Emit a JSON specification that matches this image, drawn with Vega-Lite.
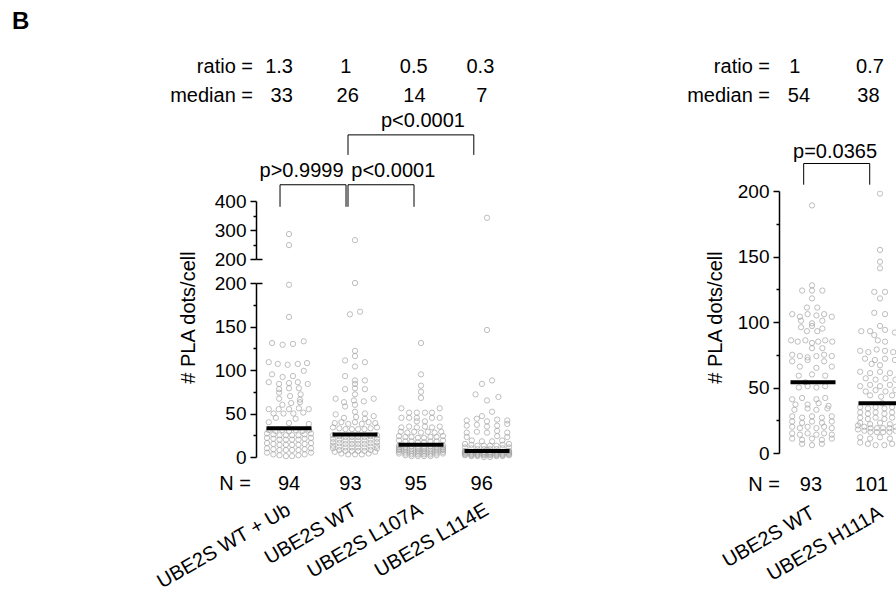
{
"$schema":"https://vega.github.io/schema/vega-lite/v6.json",
"padding":{"left":12,"top":9,"right":0,"bottom":0},
"title":{"text":"B","anchor":"start","frame":"bounds","fontSize":24,"fontWeight":"bold","font":"Liberation Sans","color":"black","dx":-141,"offset":23},
"config":{"font":"Liberation Sans","view":{"stroke":null},
"axis":{"domainColor":"black","domainWidth":1.5,"tickColor":"black","tickWidth":1.5,"tickSize":6,"labelFontSize":19,"labelColor":"black","titleFontSize":20,"titleFontWeight":"normal","titleColor":"black","grid":false,"labelPadding":4},
"text":{"fontSize":20,"color":"black"}},
"datasets":{
"left":[
{"g":"a","v":286,"j":0},{"g":"a","v":248,"j":0},{"g":"a","v":198,"j":0},{"g":"a","v":161,"j":0},
{"g":"a","v":131,"j":-0.77},{"g":"a","v":129,"j":-0.29},{"g":"a","v":130,"j":0.18},{"g":"a","v":133,"j":0.67},
{"g":"a","v":109,"j":-0.92},{"g":"a","v":107,"j":-0.51},{"g":"a","v":106,"j":-0.06},{"g":"a","v":107,"j":0.4},{"g":"a","v":108,"j":0.82},
{"g":"a","v":99,"j":0.67},{"g":"a","v":95,"j":-0.77},{"g":"a","v":92,"j":-0.29},{"g":"a","v":93,"j":0.18},
{"g":"a","v":86,"j":-0.92},{"g":"a","v":84,"j":-0.45},{"g":"a","v":85,"j":0},{"g":"a","v":86,"j":0.4},{"g":"a","v":84,"j":0.85},
{"g":"a","v":78,"j":-0.45},{"g":"a","v":79,"j":0},{"g":"a","v":79,"j":0.45},
{"g":"a","v":74,"j":-0.45},{"g":"a","v":70,"j":0.05},{"g":"a","v":72,"j":0.53},
{"g":"a","v":67,"j":-0.45},{"g":"a","v":66,"j":0.5},
{"g":"a","v":60,"j":-0.3},{"g":"a","v":62,"j":0.1},{"g":"a","v":63,"j":0.5},
{"g":"a","v":55,"j":-0.92},{"g":"a","v":55,"j":-0.47},{"g":"a","v":55,"j":0},{"g":"a","v":56,"j":0.45},{"g":"a","v":55,"j":0.9},
{"g":"a","v":50,"j":-0.7},{"g":"a","v":50,"j":-0.25},{"g":"a","v":50,"j":0.2},{"g":"a","v":51,"j":0.65},
{"g":"a","v":45,"j":-0.6},{"g":"a","v":44,"j":0.3},
{"g":"a","v":40,"j":-0.92},{"g":"a","v":39,"j":0},{"g":"a","v":38,"j":0.9},
{"g":"a","v":31,"j":-0.92},{"g":"a","v":30,"j":-0.62},{"g":"a","v":31,"j":-0.31},{"g":"a","v":30,"j":0},{"g":"a","v":31,"j":0.31},{"g":"a","v":30,"j":0.62},{"g":"a","v":31,"j":0.92},
{"g":"a","v":27,"j":-1},{"g":"a","v":26,"j":-0.71},{"g":"a","v":25,"j":-0.43},{"g":"a","v":25,"j":-0.14},{"g":"a","v":25,"j":0.14},{"g":"a","v":25,"j":0.43},{"g":"a","v":26,"j":0.71},{"g":"a","v":27,"j":1},
{"g":"a","v":22,"j":-1},{"g":"a","v":21,"j":-0.71},{"g":"a","v":20,"j":-0.43},{"g":"a","v":20,"j":-0.14},{"g":"a","v":20,"j":0.14},{"g":"a","v":20,"j":0.43},{"g":"a","v":21,"j":0.71},{"g":"a","v":22,"j":1},
{"g":"a","v":16,"j":-1},{"g":"a","v":15,"j":-0.71},{"g":"a","v":14,"j":-0.43},{"g":"a","v":14,"j":-0.14},{"g":"a","v":14,"j":0.14},{"g":"a","v":14,"j":0.43},{"g":"a","v":15,"j":0.71},{"g":"a","v":16,"j":1},
{"g":"a","v":10,"j":-1},{"g":"a","v":9,"j":-0.71},{"g":"a","v":8,"j":-0.43},{"g":"a","v":8,"j":-0.14},{"g":"a","v":8,"j":0.14},{"g":"a","v":8,"j":0.43},{"g":"a","v":9,"j":0.71},{"g":"a","v":10,"j":1},
{"g":"a","v":5,"j":-1},{"g":"a","v":3,"j":-0.71},{"g":"a","v":2,"j":-0.43},{"g":"a","v":1,"j":-0.14},{"g":"a","v":1,"j":0.14},{"g":"a","v":2,"j":0.43},{"g":"a","v":3,"j":0.71},{"g":"a","v":5,"j":1},
{"g":"b","v":265,"j":0},{"g":"b","v":200,"j":0},{"g":"b","v":164,"j":-0.23},{"g":"b","v":167,"j":0.23},{"g":"b","v":122,"j":0},{"g":"b","v":116,"j":0},{"g":"b","v":111,"j":-0.45},{"g":"b","v":109,"j":0.45},{"g":"b","v":104,"j":0},{"g":"b","v":93,"j":-0.45},
{"g":"b","v":88,"j":0},{"g":"b","v":88,"j":0.45},{"g":"b","v":84,"j":0},{"g":"b","v":78,"j":-0.45},{"g":"b","v":79,"j":0},{"g":"b","v":78,"j":0.45},{"g":"b","v":72,"j":0},
{"g":"b","v":67,"j":-0.88},{"g":"b","v":63,"j":-0.5},{"g":"b","v":65,"j":-0.05},{"g":"b","v":64,"j":0.4},{"g":"b","v":67,"j":0.85},{"g":"b","v":58,"j":-0.45},{"g":"b","v":60,"j":0},
{"g":"b","v":52,"j":0},{"g":"b","v":50,"j":0.45},{"g":"b","v":49,"j":-0.88},{"g":"b","v":45,"j":-0.5},{"g":"b","v":46,"j":0.05},{"g":"b","v":44,"j":0.45},{"g":"b","v":47,"j":0.85},
{"g":"b","v":39,"j":-0.92},{"g":"b","v":40,"j":-0.62},{"g":"b","v":38,"j":-0.31},{"g":"b","v":40,"j":0},{"g":"b","v":38,"j":0.31},{"g":"b","v":40,"j":0.62},{"g":"b","v":39,"j":0.92},
{"g":"b","v":34,"j":-1},{"g":"b","v":33,"j":-0.71},{"g":"b","v":32,"j":-0.43},{"g":"b","v":32,"j":-0.14},{"g":"b","v":32,"j":0.14},{"g":"b","v":32,"j":0.43},{"g":"b","v":33,"j":0.71},{"g":"b","v":34,"j":1},
{"g":"b","v":25,"j":-1},{"g":"b","v":24,"j":-0.71},{"g":"b","v":23,"j":-0.43},{"g":"b","v":23,"j":-0.14},{"g":"b","v":23,"j":0.14},{"g":"b","v":23,"j":0.43},{"g":"b","v":24,"j":0.71},{"g":"b","v":25,"j":1},
{"g":"b","v":21,"j":-1},{"g":"b","v":20,"j":-0.71},{"g":"b","v":19,"j":-0.43},{"g":"b","v":19,"j":-0.14},{"g":"b","v":19,"j":0.14},{"g":"b","v":19,"j":0.43},{"g":"b","v":20,"j":0.71},{"g":"b","v":21,"j":1},
{"g":"b","v":17,"j":-1},{"g":"b","v":16,"j":-0.71},{"g":"b","v":15,"j":-0.43},{"g":"b","v":15,"j":-0.14},{"g":"b","v":15,"j":0.14},{"g":"b","v":15,"j":0.43},{"g":"b","v":16,"j":0.71},{"g":"b","v":17,"j":1},
{"g":"b","v":13,"j":-1},{"g":"b","v":12,"j":-0.71},{"g":"b","v":11,"j":-0.43},{"g":"b","v":11,"j":-0.14},{"g":"b","v":11,"j":0.14},{"g":"b","v":11,"j":0.43},{"g":"b","v":12,"j":0.71},{"g":"b","v":13,"j":1},
{"g":"b","v":10,"j":-1},{"g":"b","v":8,"j":-0.71},{"g":"b","v":7,"j":-0.43},{"g":"b","v":7,"j":-0.14},{"g":"b","v":7,"j":0.14},{"g":"b","v":7,"j":0.43},{"g":"b","v":8,"j":0.71},{"g":"b","v":10,"j":1},
{"g":"b","v":6,"j":-0.92},{"g":"b","v":4,"j":-0.62},{"g":"b","v":3,"j":-0.31},{"g":"b","v":3,"j":0},{"g":"b","v":3,"j":0.31},{"g":"b","v":4,"j":0.62},{"g":"b","v":6,"j":0.92},
{"g":"c","v":131,"j":0},{"g":"c","v":95,"j":0},{"g":"c","v":82,"j":0},{"g":"c","v":75,"j":0},{"g":"c","v":68,"j":0},{"g":"c","v":56,"j":-0.89},{"g":"c","v":56,"j":0.85},
{"g":"c","v":51,"j":-0.54},{"g":"c","v":51,"j":-0.19},{"g":"c","v":51,"j":0.18},{"g":"c","v":51,"j":0.5},
{"g":"c","v":45,"j":-0.89},{"g":"c","v":45,"j":-0.54},{"g":"c","v":45,"j":-0.19},{"g":"c","v":45,"j":0.5},{"g":"c","v":45,"j":0.85},{"g":"c","v":41,"j":-0.19},{"g":"c","v":41,"j":0.18},
{"g":"c","v":34,"j":-0.89},{"g":"c","v":35,"j":-0.54},{"g":"c","v":34,"j":-0.19},{"g":"c","v":35,"j":0.18},{"g":"c","v":34,"j":0.5},{"g":"c","v":35,"j":0.85},
{"g":"c","v":29,"j":-0.92},{"g":"c","v":28,"j":-0.62},{"g":"c","v":29,"j":-0.31},{"g":"c","v":28,"j":0},{"g":"c","v":29,"j":0.31},{"g":"c","v":28,"j":0.62},{"g":"c","v":29,"j":0.92},
{"g":"c","v":24,"j":-1},{"g":"c","v":23,"j":-0.71},{"g":"c","v":23,"j":-0.43},{"g":"c","v":22,"j":-0.14},{"g":"c","v":22,"j":0.14},{"g":"c","v":23,"j":0.43},{"g":"c","v":23,"j":0.71},{"g":"c","v":24,"j":1},
{"g":"c","v":19,"j":-1},{"g":"c","v":18,"j":-0.71},{"g":"c","v":18,"j":-0.43},{"g":"c","v":17,"j":-0.14},{"g":"c","v":17,"j":0.14},{"g":"c","v":18,"j":0.43},{"g":"c","v":18,"j":0.71},{"g":"c","v":19,"j":1},
{"g":"c","v":13,"j":-1},{"g":"c","v":12,"j":-0.71},{"g":"c","v":12,"j":-0.43},{"g":"c","v":11,"j":-0.14},{"g":"c","v":11,"j":0.14},{"g":"c","v":12,"j":0.43},{"g":"c","v":12,"j":0.71},{"g":"c","v":13,"j":1},
{"g":"c","v":11,"j":-1},{"g":"c","v":10,"j":-0.71},{"g":"c","v":9,"j":-0.43},{"g":"c","v":9,"j":-0.14},{"g":"c","v":9,"j":0.14},{"g":"c","v":9,"j":0.43},{"g":"c","v":10,"j":0.71},{"g":"c","v":11,"j":1},
{"g":"c","v":9,"j":-1},{"g":"c","v":8,"j":-0.71},{"g":"c","v":7,"j":-0.43},{"g":"c","v":7,"j":-0.14},{"g":"c","v":7,"j":0.14},{"g":"c","v":7,"j":0.43},{"g":"c","v":8,"j":0.71},{"g":"c","v":9,"j":1},
{"g":"c","v":8,"j":-1},{"g":"c","v":6,"j":-0.71},{"g":"c","v":5,"j":-0.43},{"g":"c","v":5,"j":-0.14},{"g":"c","v":5,"j":0.14},{"g":"c","v":5,"j":0.43},{"g":"c","v":6,"j":0.71},{"g":"c","v":8,"j":1},
{"g":"c","v":6,"j":-1},{"g":"c","v":4,"j":-0.71},{"g":"c","v":3,"j":-0.43},{"g":"c","v":3,"j":-0.14},{"g":"c","v":3,"j":0.14},{"g":"c","v":3,"j":0.43},{"g":"c","v":4,"j":0.71},{"g":"c","v":6,"j":1},
{"g":"c","v":4,"j":-1},{"g":"c","v":2,"j":-0.71},{"g":"c","v":1,"j":-0.43},{"g":"c","v":1,"j":-0.14},{"g":"c","v":1,"j":0.14},{"g":"c","v":1,"j":0.43},{"g":"c","v":2,"j":0.71},{"g":"c","v":4,"j":1},
{"g":"d","v":342,"j":0},{"g":"d","v":146,"j":0},{"g":"d","v":88,"j":0.23},{"g":"d","v":84,"j":-0.23},{"g":"d","v":72,"j":-0.52},{"g":"d","v":69,"j":0.52},{"g":"d","v":65,"j":0},{"g":"d","v":52,"j":0.23},{"g":"d","v":47,"j":-0.23},
{"g":"d","v":42,"j":-0.92},{"g":"d","v":44,"j":-0.46},{"g":"d","v":41,"j":0},{"g":"d","v":43,"j":0.46},{"g":"d","v":42,"j":0.92},
{"g":"d","v":36,"j":-0.92},{"g":"d","v":37,"j":-0.46},{"g":"d","v":35,"j":0},{"g":"d","v":36,"j":0.46},{"g":"d","v":38,"j":0.92},
{"g":"d","v":28,"j":-0.92},{"g":"d","v":29,"j":-0.46},{"g":"d","v":28,"j":0},{"g":"d","v":30,"j":0.46},{"g":"d","v":28,"j":0.92},
{"g":"d","v":23,"j":-0.92},{"g":"d","v":24,"j":0.46},{"g":"d","v":23,"j":0.92},
{"g":"d","v":19,"j":-0.69},{"g":"d","v":18,"j":-0.23},{"g":"d","v":18,"j":0.23},{"g":"d","v":19,"j":0.69},
{"g":"d","v":15,"j":-1},{"g":"d","v":14,"j":-0.71},{"g":"d","v":13,"j":-0.43},{"g":"d","v":13,"j":-0.14},{"g":"d","v":13,"j":0.14},{"g":"d","v":13,"j":0.43},{"g":"d","v":14,"j":0.71},{"g":"d","v":15,"j":1},
{"g":"d","v":11,"j":-1},{"g":"d","v":10,"j":-0.71},{"g":"d","v":9,"j":-0.43},{"g":"d","v":9,"j":-0.14},{"g":"d","v":9,"j":0.14},{"g":"d","v":9,"j":0.43},{"g":"d","v":10,"j":0.71},{"g":"d","v":11,"j":1},
{"g":"d","v":8,"j":0},
{"g":"d","v":7,"j":-1},{"g":"d","v":6,"j":-0.71},{"g":"d","v":6,"j":-0.43},{"g":"d","v":6,"j":-0.14},{"g":"d","v":6,"j":0.14},{"g":"d","v":6,"j":0.43},{"g":"d","v":6,"j":0.71},{"g":"d","v":7,"j":1},
{"g":"d","v":6,"j":-1},{"g":"d","v":5,"j":-0.71},{"g":"d","v":5,"j":-0.43},{"g":"d","v":5,"j":-0.14},{"g":"d","v":5,"j":0.14},{"g":"d","v":5,"j":0.43},{"g":"d","v":5,"j":0.71},{"g":"d","v":6,"j":1},
{"g":"d","v":5,"j":-1},{"g":"d","v":4,"j":-0.71},{"g":"d","v":4,"j":-0.43},{"g":"d","v":4,"j":-0.14},{"g":"d","v":4,"j":0.14},{"g":"d","v":4,"j":0.43},{"g":"d","v":4,"j":0.71},{"g":"d","v":5,"j":1},
{"g":"d","v":4,"j":-1},{"g":"d","v":3,"j":-0.71},{"g":"d","v":3,"j":-0.43},{"g":"d","v":3,"j":-0.14},{"g":"d","v":3,"j":0.14},{"g":"d","v":3,"j":0.43},{"g":"d","v":3,"j":0.71},{"g":"d","v":4,"j":1},
{"g":"d","v":3,"j":-1},{"g":"d","v":2,"j":-0.71},{"g":"d","v":2,"j":-0.43},{"g":"d","v":2,"j":-0.14},{"g":"d","v":2,"j":0.14},{"g":"d","v":2,"j":0.43},{"g":"d","v":2,"j":0.71},{"g":"d","v":3,"j":1},
{"g":"d","v":2,"j":-1},{"g":"d","v":1,"j":-0.71},{"g":"d","v":1,"j":-0.43},{"g":"d","v":0,"j":-0.14},{"g":"d","v":0,"j":0.14},{"g":"d","v":1,"j":0.43},{"g":"d","v":1,"j":0.71},{"g":"d","v":2,"j":1}
],
"right":[
{"g":"e","v":189,"j":0},{"g":"e","v":128,"j":0},{"g":"e","v":124,"j":-0.45},{"g":"e","v":124,"j":0},{"g":"e","v":124,"j":0.47},{"g":"e","v":118,"j":0},{"g":"e","v":111,"j":-0.23},{"g":"e","v":111,"j":0.24},
{"g":"e","v":106,"j":-0.9},{"g":"e","v":104,"j":-0.55},{"g":"e","v":106,"j":-0.2},{"g":"e","v":105,"j":0.2},{"g":"e","v":106,"j":0.55},{"g":"e","v":104,"j":0.9},
{"g":"e","v":101,"j":-0.5},{"g":"e","v":99,"j":0},{"g":"e","v":101,"j":0.47},{"g":"e","v":96,"j":-0.5},{"g":"e","v":97,"j":0},{"g":"e","v":95,"j":0.47},{"g":"e","v":93,"j":-0.23},{"g":"e","v":93,"j":0.24},
{"g":"e","v":86,"j":-0.95},{"g":"e","v":85,"j":-0.65},{"g":"e","v":86,"j":-0.3},{"g":"e","v":84,"j":0},{"g":"e","v":85,"j":0.28},{"g":"e","v":86,"j":0.6},{"g":"e","v":85,"j":0.92},
{"g":"e","v":80,"j":0},{"g":"e","v":80,"j":0.47},
{"g":"e","v":75,"j":-0.9},{"g":"e","v":74,"j":-0.55},{"g":"e","v":73,"j":-0.2},{"g":"e","v":74,"j":0.2},{"g":"e","v":75,"j":0.55},{"g":"e","v":74,"j":0.9},
{"g":"e","v":70,"j":-0.9},{"g":"e","v":71,"j":-0.2},{"g":"e","v":70,"j":0.55},{"g":"e","v":66,"j":-0.55},{"g":"e","v":65,"j":0.2},{"g":"e","v":66,"j":0.9},
{"g":"e","v":59,"j":-0.6},{"g":"e","v":60,"j":0},{"g":"e","v":59,"j":0.6},{"g":"e","v":54,"j":-0.3},
{"g":"e","v":50,"j":-0.6},{"g":"e","v":51,"j":-0.2},{"g":"e","v":50,"j":0.2},{"g":"e","v":51,"j":0.6},
{"g":"e","v":41,"j":-0.9},{"g":"e","v":42,"j":-0.45},{"g":"e","v":41,"j":0.2},{"g":"e","v":42,"j":0.6},
{"g":"e","v":37,"j":-0.75},{"g":"e","v":37,"j":-0.2},{"g":"e","v":38,"j":0.3},{"g":"e","v":36,"j":0.75},
{"g":"e","v":33,"j":-0.8},{"g":"e","v":34,"j":-0.2},{"g":"e","v":33,"j":0.2},{"g":"e","v":34,"j":0.7},
{"g":"e","v":28,"j":-0.9},{"g":"e","v":27,"j":-0.45},{"g":"e","v":28,"j":0},{"g":"e","v":27,"j":0.45},{"g":"e","v":28,"j":0.9},
{"g":"e","v":24,"j":-0.9},{"g":"e","v":23,"j":-0.45},{"g":"e","v":24,"j":0},{"g":"e","v":23,"j":0.45},{"g":"e","v":24,"j":0.9},
{"g":"e","v":20,"j":-0.9},{"g":"e","v":19,"j":-0.55},{"g":"e","v":20,"j":-0.2},{"g":"e","v":19,"j":0.2},{"g":"e","v":20,"j":0.55},{"g":"e","v":19,"j":0.9},
{"g":"e","v":15,"j":-0.9},{"g":"e","v":14,"j":-0.55},{"g":"e","v":15,"j":-0.2},{"g":"e","v":14,"j":0.2},{"g":"e","v":15,"j":0.55},{"g":"e","v":14,"j":0.9},
{"g":"e","v":11,"j":-0.9},{"g":"e","v":10,"j":-0.45},{"g":"e","v":11,"j":0},{"g":"e","v":10,"j":0.45},{"g":"e","v":11,"j":0.9},
{"g":"e","v":7,"j":-0.45},{"g":"e","v":6,"j":0},{"g":"e","v":7,"j":0.45},
{"g":"f","v":198,"j":0},{"g":"f","v":155,"j":0},{"g":"f","v":146,"j":0},{"g":"f","v":141,"j":0},{"g":"f","v":123,"j":-0.26},{"g":"f","v":123,"j":0.23},{"g":"f","v":118,"j":0},{"g":"f","v":107,"j":-0.26},{"g":"f","v":106,"j":0.23},{"g":"f","v":97,"j":0},
{"g":"f","v":93,"j":-0.85},{"g":"f","v":93,"j":-0.45},{"g":"f","v":94,"j":0.23},{"g":"f","v":92,"j":0.68},{"g":"f","v":90,"j":-0.26},{"g":"f","v":86,"j":-0.1},{"g":"f","v":85,"j":0.23},
{"g":"f","v":78,"j":-0.9},{"g":"f","v":77,"j":-0.53},{"g":"f","v":79,"j":-0.15},{"g":"f","v":78,"j":0.23},{"g":"f","v":77,"j":0.6},{"g":"f","v":78,"j":0.92},
{"g":"f","v":72,"j":-0.68},{"g":"f","v":71,"j":-0.23},{"g":"f","v":72,"j":0.23},{"g":"f","v":71,"j":0.68},{"g":"f","v":68,"j":-0.38},{"g":"f","v":67,"j":0},
{"g":"f","v":62,"j":-0.9},{"g":"f","v":61,"j":-0.45},{"g":"f","v":62,"j":0},{"g":"f","v":61,"j":0.45},{"g":"f","v":62,"j":0.9},
{"g":"f","v":57,"j":-0.65},{"g":"f","v":56,"j":-0.2},{"g":"f","v":57,"j":0.25},{"g":"f","v":56,"j":0.7},
{"g":"f","v":51,"j":-0.9},{"g":"f","v":52,"j":-0.45},{"g":"f","v":51,"j":0},{"g":"f","v":52,"j":0.45},{"g":"f","v":51,"j":0.9},
{"g":"f","v":47,"j":-0.65},{"g":"f","v":48,"j":-0.2},{"g":"f","v":47,"j":0.25},{"g":"f","v":48,"j":0.7},
{"g":"f","v":44,"j":-0.45},{"g":"f","v":43,"j":0.05},{"g":"f","v":44,"j":0.55},{"g":"f","v":38,"j":0.1},
{"g":"f","v":35,"j":-0.9},{"g":"f","v":34,"j":-0.55},{"g":"f","v":35,"j":-0.2},{"g":"f","v":34,"j":0.2},{"g":"f","v":35,"j":0.55},{"g":"f","v":34,"j":0.9},
{"g":"f","v":31,"j":-0.9},{"g":"f","v":30,"j":-0.55},{"g":"f","v":31,"j":-0.2},{"g":"f","v":30,"j":0.2},{"g":"f","v":31,"j":0.55},{"g":"f","v":30,"j":0.9},
{"g":"f","v":27,"j":-0.9},{"g":"f","v":26,"j":-0.55},{"g":"f","v":27,"j":-0.2},{"g":"f","v":26,"j":0.2},{"g":"f","v":27,"j":0.55},{"g":"f","v":26,"j":0.9},
{"g":"f","v":23,"j":-0.9},{"g":"f","v":22,"j":-0.45},{"g":"f","v":23,"j":0},{"g":"f","v":22,"j":0.45},{"g":"f","v":23,"j":0.9},
{"g":"f","v":21,"j":-1},{"g":"f","v":20,"j":-0.71},{"g":"f","v":19,"j":-0.43},{"g":"f","v":19,"j":-0.14},{"g":"f","v":19,"j":0.14},{"g":"f","v":19,"j":0.43},{"g":"f","v":20,"j":0.71},{"g":"f","v":21,"j":1},
{"g":"f","v":18,"j":-1},{"g":"f","v":17,"j":-0.71},{"g":"f","v":16,"j":-0.43},{"g":"f","v":16,"j":-0.14},{"g":"f","v":16,"j":0.14},{"g":"f","v":16,"j":0.43},{"g":"f","v":17,"j":0.71},{"g":"f","v":18,"j":1},
{"g":"f","v":12,"j":-0.9},{"g":"f","v":11,"j":-0.45},{"g":"f","v":12,"j":0},{"g":"f","v":11,"j":0.45},{"g":"f","v":12,"j":0.9},
{"g":"f","v":8,"j":-0.9},{"g":"f","v":7,"j":-0.55},{"g":"f","v":6,"j":-0.2},{"g":"f","v":6,"j":0.2},{"g":"f","v":7,"j":0.55},{"g":"f","v":8,"j":0.9}
],
"lMed":[{"g":"a","m":33},{"g":"b","m":26},{"g":"c","m":14},{"g":"d","m":7}],
"rMed":[{"g":"e","m":54},{"g":"f","m":38}],
"lTopLab":[{"t":"ratio =","u":-0.545,"y":862},{"t":"median =","u":-0.545,"y":762}],
"lTopVal":[{"t":"1.3","u":-0.15,"y":862},{"t":"1","u":0.86,"y":862},{"t":"0.5","u":1.89,"y":862},{"t":"0.3","u":2.9,"y":862},
{"t":"33","u":-0.11,"y":762},{"t":"26","u":0.89,"y":762},{"t":"14","u":1.9,"y":762},{"t":"7","u":2.92,"y":762},
{"t":"p<0.0001","u":2.03,"y":676},{"t":"p>0.9999","u":0.19,"y":504},{"t":"p<0.0001","u":1.58,"y":504}],
"lBr":[{"u1":0.894,"u2":2.8,"top":628,"bot":559},{"u1":-0.136,"u2":0.864,"top":456,"bot":380},{"u1":0.894,"u2":1.894,"top":456,"bot":380}],
"lNLab":[{"t":"N =","u":-0.576,"y":-31}],
"lNVal":[{"t":"94","u":0,"y":-31},{"t":"93","u":0.93,"y":-31},{"t":"95","u":1.92,"y":-31},{"t":"96","u":2.92,"y":-31}],
"rLab":[{"t":"ratio =","u":-0.632,"y":294.7},{"t":"median =","u":-0.632,"y":272.5},{"t":"N =","u":-0.485,"y":-24.4}],
"rVal":[{"t":"1","u":-0.266,"y":294.7},{"t":"0.7","u":0.838,"y":294.7},{"t":"54","u":-0.206,"y":272.5},{"t":"38","u":0.816,"y":272.5},{"t":"p=0.0365","u":0.324,"y":229.8},{"t":"93","u":-0.03,"y":-24.4},{"t":"101","u":0.86,"y":-24.4}],
"rBr":[{"u1":-0.137,"u2":0.834,"top":221,"bot":204.8}]
},
"hconcat":[
{"bounds":"flush","spacing":24,"vconcat":[
{"width":264,"height":68,
"layer":[
{"data":{"name":"left"},"transform":[{"filter":"datum.v > 200"}],"mark":{"type":"point","shape":"circle","filled":false,"size":28,"stroke":"#a3a3a3","strokeWidth":1},
"encoding":{"x":{"field":"g","type":"nominal","scale":{"domain":["a","b","c","d"],"paddingInner":0,"paddingOuter":0},"axis":null},
"xOffset":{"field":"j","type":"quantitative","scale":{"domain":[-1,1],"range":[11,55]}},
"y":{"field":"v","type":"quantitative","scale":{"domain":[200,400],"range":[68,10]},"axis":{"values":[200,300,400],"title":null}}}},
{"data":{"name":"lBr"},"mark":{"type":"rule","color":"black","strokeWidth":1},
"encoding":{"x":{"field":"u1","type":"quantitative","scale":{"domain":[-0.5,3.5]},"axis":null},"x2":{"field":"u2"},
"y":{"field":"top","type":"quantitative","scale":{"domain":[200,400],"range":[68,10]},"axis":{"values":[250,350],"labels":false,"domain":false,"tickSize":3,"title":null,"orient":"left"}}}},
{"data":{"name":"lBr"},"mark":{"type":"rule","color":"black","strokeWidth":1},
"encoding":{"x":{"field":"u1","type":"quantitative","scale":{"domain":[-0.5,3.5]},"axis":null},
"y":{"field":"top","type":"quantitative","scale":{"domain":[200,400],"range":[68,10]},"axis":{"values":[200],"labels":false,"domain":false,"tickSize":-6,"title":null,"orient":"left"}},"y2":{"field":"bot"}}},
{"data":{"name":"lBr"},"mark":{"type":"rule","color":"black","strokeWidth":1},
"encoding":{"x":{"field":"u2","type":"quantitative","scale":{"domain":[-0.5,3.5]},"axis":null},
"y":{"field":"top","type":"quantitative","scale":{"domain":[200,400],"range":[68,10]},"axis":null},"y2":{"field":"bot"}}},
{"data":{"name":"lTopLab"},"mark":{"type":"text","align":"right","baseline":"middle","fontSize":20},
"encoding":{"x":{"field":"u","type":"quantitative","scale":{"domain":[-0.5,3.5]},"axis":null},
"y":{"field":"y","type":"quantitative","scale":{"domain":[200,400],"range":[68,10]},"axis":null},"text":{"field":"t"}}},
{"data":{"name":"lTopVal"},"mark":{"type":"text","align":"center","baseline":"middle","fontSize":20},
"encoding":{"x":{"field":"u","type":"quantitative","scale":{"domain":[-0.5,3.5]},"axis":null},
"y":{"field":"y","type":"quantitative","scale":{"domain":[200,400],"range":[68,10]},"axis":null},"text":{"field":"t"}}}
],
"resolve":{"scale":{"x":"independent"},"axis":{"y":"independent"}}},
{"width":264,"height":174,
"layer":[
{"data":{"name":"left"},"transform":[{"filter":"datum.v <= 200"}],"mark":{"type":"point","shape":"circle","filled":false,"size":28,"stroke":"#a3a3a3","strokeWidth":1},
"encoding":{"x":{"field":"g","type":"nominal","scale":{"domain":["a","b","c","d"],"paddingInner":0,"paddingOuter":0},
"axis":{"title":null,"domain":false,"ticks":false,"labelAngle":-30,"labelAlign":"right","labelBaseline":"middle","labelPadding":51,"labelFontSize":20,
"labelExpr":"datum.value=='a'?'UBE2S WT + Ub':datum.value=='b'?'UBE2S WT':datum.value=='c'?'UBE2S L107A':'UBE2S L114E'"}},
"xOffset":{"field":"j","type":"quantitative","scale":{"domain":[-1,1],"range":[11,55]}},
"y":{"field":"v","type":"quantitative","scale":{"domain":[0,200]},"axis":{"values":[0,50,100,150,200],"title":"# PLA dots/cell","titleX":-58,"titleY":34}}}},
{"data":{"name":"lMed"},"mark":{"type":"tick","color":"black","opacity":1,"size":45,"thickness":4},
"encoding":{"x":{"field":"g","type":"nominal","scale":{"domain":["a","b","c","d"],"paddingInner":0,"paddingOuter":0},"axis":null},
"y":{"field":"m","type":"quantitative","scale":{"domain":[0,200]},"axis":{"values":[25,75,125,175],"labels":false,"domain":false,"tickSize":3,"title":null,"orient":"left"}}}},
{"data":{"name":"lNLab"},"mark":{"type":"text","align":"right","baseline":"middle","fontSize":20},
"encoding":{"x":{"field":"u","type":"quantitative","scale":{"domain":[-0.5,3.5]},"axis":null},
"y":{"field":"y","type":"quantitative","scale":{"domain":[0,200]},"axis":{"values":[200],"labels":false,"domain":false,"tickSize":-6,"title":null,"orient":"left"}},"text":{"field":"t"}}},
{"data":{"name":"lNVal"},"mark":{"type":"text","align":"center","baseline":"middle","fontSize":20},
"encoding":{"x":{"field":"u","type":"quantitative","scale":{"domain":[-0.5,3.5]},"axis":null},
"y":{"field":"y","type":"quantitative","scale":{"domain":[0,200]},"axis":null},"text":{"field":"t"}}}
],
"resolve":{"scale":{"x":"independent"},"axis":{"y":"independent"}}}
]},
{"width":120,"height":262,
"layer":[
{"data":{"name":"right"},"mark":{"type":"point","shape":"circle","filled":false,"size":28,"stroke":"#a3a3a3","strokeWidth":1,"clip":true},
"encoding":{"x":{"field":"g","type":"nominal","scale":{"domain":["e","f"],"range":[0,136],"paddingInner":0,"paddingOuter":0},
"axis":{"title":null,"domain":false,"ticks":false,"labelAngle":-30,"labelAlign":"right","labelBaseline":"middle","labelPadding":58,"labelFontSize":20,
"labelExpr":"datum.value=='e'?'UBE2S WT':'UBE2S H111A'"}},
"xOffset":{"field":"j","type":"quantitative","scale":{"domain":[-1,1],"range":[12,56]}},
"y":{"field":"v","type":"quantitative","scale":{"domain":[0,200]},"axis":{"values":[0,50,100,150,200],"title":"# PLA dots/cell","titleX":-54,"titleY":126}}}},
{"data":{"name":"rMed"},"mark":{"type":"tick","color":"black","opacity":1,"size":45,"thickness":4,"clip":true},
"encoding":{"x":{"field":"g","type":"nominal","scale":{"domain":["e","f"],"range":[0,136],"paddingInner":0,"paddingOuter":0},"axis":null},
"y":{"field":"m","type":"quantitative","scale":{"domain":[0,200]},"axis":{"values":[25,75,125,175],"labels":false,"domain":false,"tickSize":3,"title":null,"orient":"left"}}}},
{"data":{"name":"rBr"},"mark":{"type":"rule","color":"black","strokeWidth":1},
"encoding":{"x":{"field":"u1","type":"quantitative","scale":{"domain":[-0.5,1.5],"range":[0,136]},"axis":null},"x2":{"field":"u2"},
"y":{"field":"top","type":"quantitative","scale":{"domain":[0,200]},"axis":null}}},
{"data":{"name":"rBr"},"mark":{"type":"rule","color":"black","strokeWidth":1},
"encoding":{"x":{"field":"u1","type":"quantitative","scale":{"domain":[-0.5,1.5],"range":[0,136]},"axis":null},
"y":{"field":"top","type":"quantitative","scale":{"domain":[0,200]},"axis":null},"y2":{"field":"bot"}}},
{"data":{"name":"rBr"},"mark":{"type":"rule","color":"black","strokeWidth":1},
"encoding":{"x":{"field":"u2","type":"quantitative","scale":{"domain":[-0.5,1.5],"range":[0,136]},"axis":null},
"y":{"field":"top","type":"quantitative","scale":{"domain":[0,200]},"axis":null},"y2":{"field":"bot"}}},
{"data":{"name":"rLab"},"mark":{"type":"text","align":"right","baseline":"middle","fontSize":20},
"encoding":{"x":{"field":"u","type":"quantitative","scale":{"domain":[-0.5,1.5],"range":[0,136]},"axis":null},
"y":{"field":"y","type":"quantitative","scale":{"domain":[0,200]},"axis":null},"text":{"field":"t"}}},
{"data":{"name":"rVal"},"mark":{"type":"text","align":"center","baseline":"middle","fontSize":20},
"encoding":{"x":{"field":"u","type":"quantitative","scale":{"domain":[-0.5,1.5],"range":[0,136]},"axis":null},
"y":{"field":"y","type":"quantitative","scale":{"domain":[0,200]},"axis":null},"text":{"field":"t"}}}
],
"resolve":{"scale":{"x":"independent"},"axis":{"y":"independent"}}}
],
"spacing":167
}
